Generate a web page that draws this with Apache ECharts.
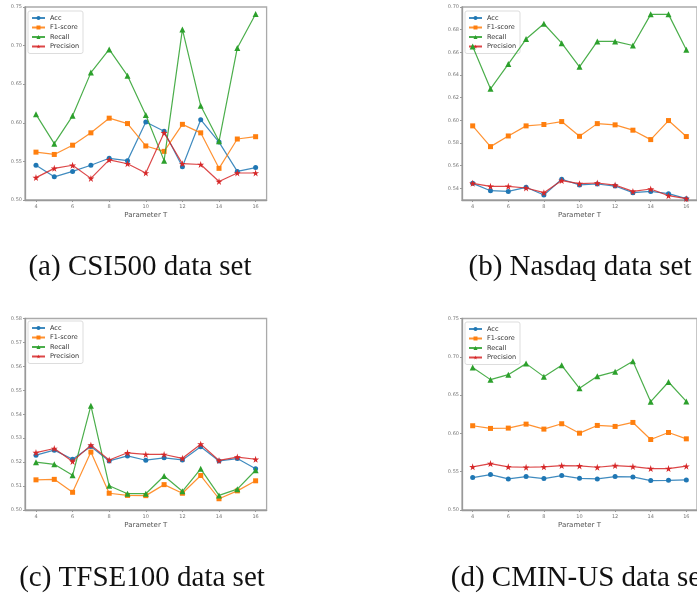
<!DOCTYPE html>
<html>
<head>
<meta charset="utf-8">
<script src="https://cdn.jsdelivr.net/npm/echarts@6/dist/echarts.min.js"></script>
<style>
html,body{margin:0;padding:0;background:#fff;}
#c{width:697px;height:596px;}
</style>
</head>
<body>
<div id="c"></div>
<script>
// ---- data ----
const T = [4,5,6,7,8,9,10,11,12,13,14,15,16];
const seriesNames = ['Acc','F1-score','Recall','Precision'];
const xTicks = [4,6,8,10,12,14,16];

// (a) CSI500
const csiAcc       = [0.545,0.530,0.537,0.545,0.554,0.551,0.601,0.589,0.543,0.604,0.575,0.537,0.542];
const csiF1        = [0.562,0.559,0.571,0.587,0.606,0.599,0.570,0.563,0.598,0.587,0.541,0.579,0.582];
const csiRecall    = [0.611,0.573,0.609,0.665,0.695,0.661,0.610,0.551,0.721,0.622,0.576,0.697,0.741];
const csiPrecision = [0.529,0.541,0.545,0.528,0.552,0.547,0.535,0.587,0.547,0.546,0.524,0.535,0.535];

// (b) Nasdaq
const nasAcc       = [0.5444,0.5379,0.5373,0.5409,0.5341,0.5480,0.5430,0.5438,0.5420,0.5362,0.5373,0.5353,0.5309];
const nasF1        = [0.5951,0.5768,0.5862,0.5951,0.5963,0.5989,0.5859,0.5971,0.5960,0.5913,0.5830,0.5998,0.5857];
const nasRecall    = [0.6652,0.6278,0.6496,0.6717,0.6852,0.6681,0.6472,0.6696,0.6696,0.6660,0.6935,0.6935,0.6622];
const nasPrecision = [0.5444,0.5418,0.5418,0.5403,0.5362,0.5468,0.5441,0.5447,0.5429,0.5373,0.5394,0.5335,0.5309];

// (c) TFSE100
const tfAcc       = [0.5229,0.5250,0.5212,0.5265,0.5205,0.5226,0.5208,0.5218,0.5209,0.5264,0.5205,0.5215,0.5172];
const tfF1        = [0.5126,0.5128,0.5074,0.5242,0.5070,0.5061,0.5060,0.5106,0.5070,0.5144,0.5047,0.5080,0.5122];
const tfRecall    = [0.5200,0.5191,0.5145,0.5436,0.5101,0.5068,0.5068,0.5142,0.5078,0.5172,0.5061,0.5087,0.5166];
const tfPrecision = [0.5240,0.5257,0.5203,0.5271,0.5209,0.5239,0.5232,0.5232,0.5216,0.5275,0.5207,0.5221,0.5212];

// (d) CMIN-US
const cmAcc       = [0.5423,0.5462,0.5406,0.5436,0.5410,0.5449,0.5414,0.5406,0.5436,0.5432,0.5384,0.5388,0.5393];
const cmF1        = [0.6100,0.6065,0.6069,0.6121,0.6056,0.6126,0.6003,0.6104,0.6091,0.6143,0.5920,0.6012,0.5929];
const cmRecall    = [0.6859,0.6702,0.6767,0.6911,0.6741,0.6889,0.6588,0.6745,0.6806,0.6941,0.6414,0.6671,0.6418];
const cmPrecision = [0.5563,0.5606,0.5563,0.5558,0.5563,0.5580,0.5576,0.5558,0.5580,0.5567,0.5541,0.5541,0.5572];

const yTicksA = [0.50,0.55,0.60,0.65,0.70,0.75];
const yTicksB = [0.54,0.56,0.58,0.60,0.62,0.64,0.66,0.68,0.70];
const yTicksC = [0.50,0.51,0.52,0.53,0.54,0.55,0.56,0.57,0.58];
const yTicksD = [0.50,0.55,0.60,0.65,0.70,0.75];

const captions = ['(a) CSI500 data set','(b) Nasdaq data set','(c) TFSE100 data set','(d) CMIN-US data set'];

// ---- chart ----
const colors = ['#1f77b4','#ff7f0e','#2ca02c','#d62728'];
const STAR = 'path://M50,0 L61,35 L98,35 L68,57 L79,91 L50,70 L21,91 L32,57 L2,35 L39,35 Z';
const symbols = ['circle','rect','triangle',STAR];
const symSizes = [5,5,6,7];

const panels = [
  {data:[csiAcc,csiF1,csiRecall,csiPrecision], yMin:0.50, yMax:0.75, yTicks:yTicksA,
   grid:{left:25, top:7, width:241.6, height:193}, legend:{left:28, top:11}},
  {data:[nasAcc,nasF1,nasRecall,nasPrecision], yMin:0.5297, yMax:0.70, yTicks:yTicksB,
   grid:{left:462, top:7, width:241.6, height:193}, legend:{left:465, top:11}},
  {data:[tfAcc,tfF1,tfRecall,tfPrecision], yMin:0.50, yMax:0.58, yTicks:yTicksC,
   grid:{left:25, top:318.5, width:241.6, height:191.5}, legend:{left:28, top:321}},
  {data:[cmAcc,cmF1,cmRecall,cmPrecision], yMin:0.50, yMax:0.75, yTicks:yTicksD,
   grid:{left:462, top:318.5, width:241.6, height:191.5}, legend:{left:465, top:322}}
];

const grids=[], xAxes=[], yAxes=[], series=[], legends=[];
panels.forEach((p,i)=>{
  grids.push(Object.assign({show:true, borderColor:'#aaa', borderWidth:1.3, backgroundColor:'#fff', containLabel:false}, p.grid));
  xAxes.push({
    type:'value', gridIndex:i, min:3.4, max:16.6,
    name:'Parameter T', nameLocation:'middle', nameGap:12,
    nameTextStyle:{fontSize:7, color:'#555', fontFamily:'DejaVu Sans'},
    axisLine:{show:true, lineStyle:{color:'#999', width:1.3}},
    axisTick:{show:true, length:2, customValues:xTicks, lineStyle:{color:'#999'}},
    axisLabel:{show:true, customValues:xTicks, fontSize:5, color:'#777', margin:4, fontFamily:'DejaVu Sans'},
    splitLine:{show:false}
  });
  yAxes.push({
    type:'value', gridIndex:i, min:p.yMin, max:p.yMax,
    axisLine:{show:true, lineStyle:{color:'#999', width:1.3}},
    axisTick:{show:true, length:2, customValues:p.yTicks, lineStyle:{color:'#999'}},
    axisLabel:{show:true, customValues:p.yTicks, fontSize:5, color:'#777', margin:3, fontFamily:'DejaVu Sans',
      formatter:v=>v.toFixed(2)},
    splitLine:{show:false}
  });
  p.data.forEach((vals,k)=>{
    series.push({
      name:seriesNames[k], type:'line', xAxisIndex:i, yAxisIndex:i,
      data:T.map((t,j)=>[t,vals[j]]),
      symbol:symbols[k], symbolSize:symSizes[k], showSymbol:true,
      itemStyle:{color:colors[k]},
      lineStyle:{color:colors[k], width:1.2, opacity:0.85},
      z:2+k, animation:false
    });
  });
  legends.push({
    left:p.legend.left, top:p.legend.top, orient:'vertical',
    data:seriesNames, itemWidth:13, itemHeight:5, itemGap:1.5,
    textStyle:{fontSize:6.5, color:'#333', lineHeight:8, fontFamily:'DejaVu Sans'},
    padding:[3,4,3,3], borderColor:'#ddd', borderWidth:1, borderRadius:2, backgroundColor:'rgba(255,255,255,0.85)',
    selectedMode:false
  });
});

const capPos = [[140,267],[580,267],[142,578],[580,578]];

const chart = echarts.init(document.getElementById('c'), null, {renderer:'canvas'});
chart.setOption({
  animation:false,
  grid:grids, xAxis:xAxes, yAxis:yAxes, series:series, legend:legends,
  graphic:captions.map((c,i)=>({
    type:'text', x:capPos[i][0], y:capPos[i][1],
    style:{text:c, align:'center', verticalAlign:'middle', font:'29px "Liberation Serif"', fill:'#111'}
  }))
});
</script>
</body>
</html>
